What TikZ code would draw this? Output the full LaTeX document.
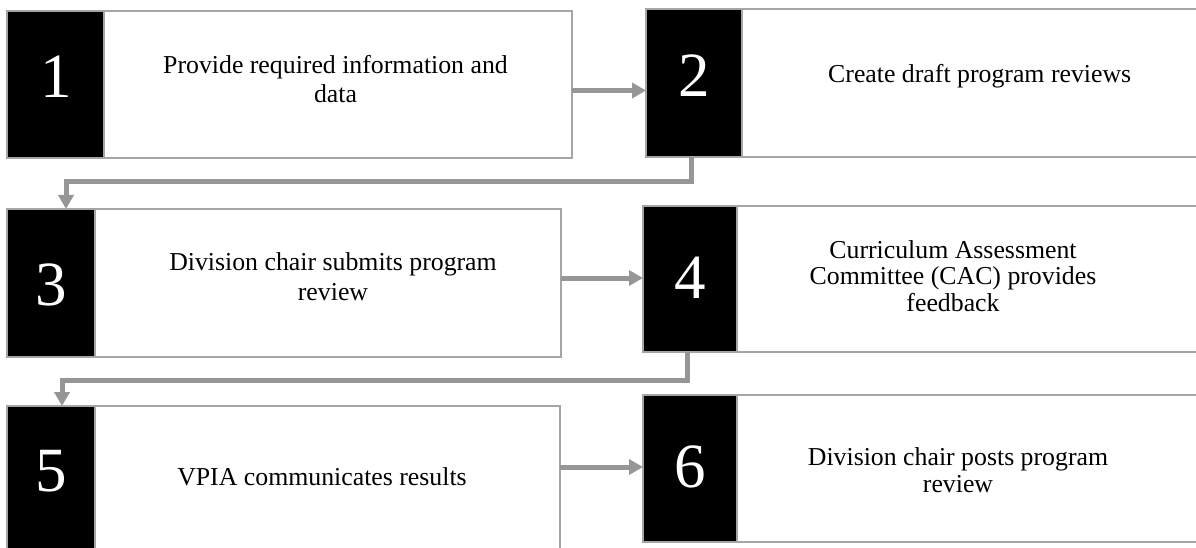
\documentclass[tikz,border=0pt]{standalone}
\usepackage{fontspec}
\setmainfont{Liberation Serif}
\usetikzlibrary{arrows.meta}
\definecolor{edgegray}{RGB}{165,165,165}
\definecolor{conngray}{RGB}{150,150,150}
\begin{document}
\begin{tikzpicture}[x=1pt,y=-1pt,
  numbox/.style={draw=edgegray,line width=1.5pt,fill=black,inner sep=0pt,outer sep=0pt,anchor=north west},
  txtbox/.style={draw=edgegray,line width=1.5pt,fill=white,inner sep=0pt,outer sep=0pt,anchor=north west},
  digit/.style={text=white,font=\fontsize{63}{63}\selectfont,inner sep=0pt,anchor=base},
  steptext/.style={font=\fontsize{25.8}{#1}\selectfont,inner sep=0pt,align=center,anchor=base},
  steptext/.default=28.5,
  conn/.style={draw=conngray,line width=5pt,-{Triangle[length=14pt,width=15pt]}}
]
\useasboundingbox (0,0) rectangle (1196,548);
\fill[white] (0,0) rectangle (1196,548);

% white text boxes
\node[txtbox,minimum width=468pt,minimum height=147pt] (w1) at (104,11) {};
\node[txtbox,minimum width=458pt,minimum height=148pt] (w2) at (742,9) {};
\node[txtbox,minimum width=466pt,minimum height=148pt] (w3) at (95,209) {};
\node[txtbox,minimum width=463pt,minimum height=146pt] (w4) at (737,206) {};
\node[txtbox,minimum width=465pt,minimum height=148pt] (w5) at (95,406) {};
\node[txtbox,minimum width=463pt,minimum height=147pt] (w6) at (737,395) {};

% black number boxes
\node[numbox,minimum width=97pt,minimum height=147pt] (b1) at (7,11) {};
\node[numbox,minimum width=96pt,minimum height=148pt] (b2) at (646,9) {};
\node[numbox,minimum width=88pt,minimum height=148pt] (b3) at (7,209) {};
\node[numbox,minimum width=94pt,minimum height=146pt] (b4) at (643,206) {};
\node[numbox,minimum width=88pt,minimum height=148pt] (b5) at (7,406) {};
\node[numbox,minimum width=94pt,minimum height=147pt] (b6) at (643,395) {};

% digits
\node[digit] (d1) at (56,98) {1};
\node[digit] (d2) at (694,97) {2};
\node[digit] (d3) at (51,305) {3};
\node[digit] (d4) at (690,298) {4};
\node[digit] (d5) at (51,491) {5};
\node[digit] (d6) at (690,487) {6};

% texts (anchor = baseline of the last line)
\node[steptext=29.5] (t1) at (335.5,103) {Provide required information and\\data};
\node[steptext,anchor=base west] (t2) at (828,83) {Create draft program reviews};
\node[steptext=30] (t3) at (333,300) {Division chair submits program\\review};
\node[steptext=26.5] (t4) at (953,311) {Curriculum Assessment\\Committee (CAC) provides\\feedback};
\node[steptext] (t5) at (322,485) {VPIA communicates results};
\node[steptext=27] (t6) at (958,492) {Division chair posts program\\review};

% connectors
\draw[conn] ([yshift=-6pt]w1.east) coordinate (s12) -- (s12 -| b2.west);
\draw[conn] ([yshift=5pt]w3.east) coordinate (s34) -- (s34 -| b4.west);
\draw[conn] ([yshift=13pt]w5.east) coordinate (s56) -- (s56 -| b6.west);
\draw[conn] ([xshift=-3pt]b2.south) -- ++(0,25) -| ([xshift=15pt]b3.north);
\draw[conn] ([xshift=-3pt]b4.south) -- ++(0,28) -| ([xshift=11pt]b5.north);
\end{tikzpicture}
\end{document}
